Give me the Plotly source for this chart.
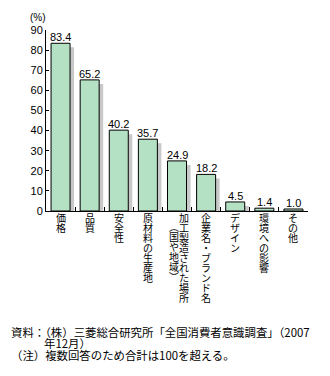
import plotly.graph_objects as go

# Survey: what consumers look at when buying food (multiple answers, %)
categories = [
    "価格",
    "品質",
    "安全性",
    "原材料の生産地",
    "加工製造された場所(国や地域)",
    "企業名・ブランド名",
    "デザイン",
    "環境への影響",
    "その他",
]
values = [83.4, 65.2, 40.2, 35.7, 24.9, 18.2, 4.5, 1.4, 1.0]
y_ticks = [0, 10, 20, 30, 40, 50, 60, 70, 80, 90]
unit_label = "(%)"
footnotes = [
    "資料：（株）三菱総合研究所「全国消費者意識調査」（2007",
    "年12月）",
    "（注）複数回答のため合計は100を超える。",
]

BAR_GREEN = "#b4e0c4"
SHADOW_GREY = "#c8c8c8"
NUM_FONT = "Liberation Sans, Arial, sans-serif"
JP_FONT = "Noto Sans CJK JP, sans-serif"

W, H = 330, 376
M_L, M_R, M_T, M_B = 46, 22, 30, 165
plot_w = W - M_L - M_R
cat_px = plot_w / len(categories)

bar_w = 0.653
shadow_dx = 4 / cat_px      # drop shadow shifted right by 4 px
shadow_drop = 2             # ... and down by 2 units

fig = go.Figure()

# drop shadow behind every bar
fig.add_trace(go.Bar(
    x=categories, y=values, base=[-shadow_drop] * len(values),
    width=bar_w, offset=-bar_w / 2 + shadow_dx,
    marker=dict(color=SHADOW_GREY, line=dict(width=0)),
    hoverinfo="skip", showlegend=False,
))
# main bars
fig.add_trace(go.Bar(
    x=categories, y=values,
    width=bar_w, offset=-bar_w / 2,
    marker=dict(color=BAR_GREEN, line=dict(color="black", width=1)),
    showlegend=False,
))

annotations = []

# value labels above bars
for cat, v in zip(categories, values):
    annotations.append(dict(
        x=cat, y=v, xref="x", yref="y", text=f"{v:.1f}",
        showarrow=False, yanchor="bottom", xanchor="center", yshift=-2,
        font=dict(family=NUM_FONT, size=11, color="black"),
    ))

# vertical category labels, one glyph per cell
char_pitch = 10
first_row = 6.5
vert_map = {"(": "︵", ")": "︶"}
for cat in categories:
    if "(" in cat:
        main, sub = cat.split("(", 1)
        columns = [(main, 7, 0), ("(" + sub, -3, 0.9)]
    else:
        columns = [(cat, 0, 0)]
    for text, dx, row0 in columns:
        for i, ch in enumerate(text):
            annotations.append(dict(
                x=cat, y=0, xref="x", yref="paper",
                text=vert_map.get(ch, ch), showarrow=False,
                xanchor="center", yanchor="middle", borderpad=0,
                xshift=dx, yshift=-(first_row + char_pitch * (i + row0)),
                font=dict(family=JP_FONT, size=10, color="black"),
            ))

# unit label
annotations.append(dict(
    x=0, y=1, xref="paper", yref="paper", text=unit_label, showarrow=False,
    xanchor="center", yanchor="middle", xshift=38 - M_L, yshift=13,
    font=dict(family=NUM_FONT, size=10, color="black"),
))

# source and notes
note_pos = [(10, 332), (43, 343), (10, 355)]
for line, (px, py) in zip(footnotes, note_pos):
    annotations.append(dict(
        x=0, y=0, xref="paper", yref="paper", text=line, showarrow=False,
        xanchor="left", yanchor="middle", xshift=px - M_L, yshift=(H - M_B) - py,
        borderpad=0,
        font=dict(family=JP_FONT, size=11.4, color="black"),
    ))

fig.update_layout(
    width=W, height=H,
    margin=dict(l=M_L, r=M_R, t=M_T, b=M_B, pad=0),
    paper_bgcolor="white", plot_bgcolor="white",
    barmode="overlay",
    annotations=annotations,
    xaxis=dict(
        type="category", range=[-0.5, len(categories) - 0.5],
        showticklabels=False, tickson="boundaries",
        ticks="inside", ticklen=4, tickcolor="black", tickwidth=1,
        showline=True, linecolor="black", linewidth=1,
        showgrid=False, zeroline=False, fixedrange=True,
    ),
    yaxis=dict(
        range=[0, 90], tickvals=y_ticks,
        ticks="inside", ticklen=3, tickcolor="black", tickwidth=1,
        showline=True, linecolor="black", linewidth=1,
        showgrid=False, zeroline=False, fixedrange=True,
        tickfont=dict(family=NUM_FONT, size=11, color="black"),
    ),
    showlegend=False,
)

fig.write_html("out.html", config={"displayModeBar": False})
